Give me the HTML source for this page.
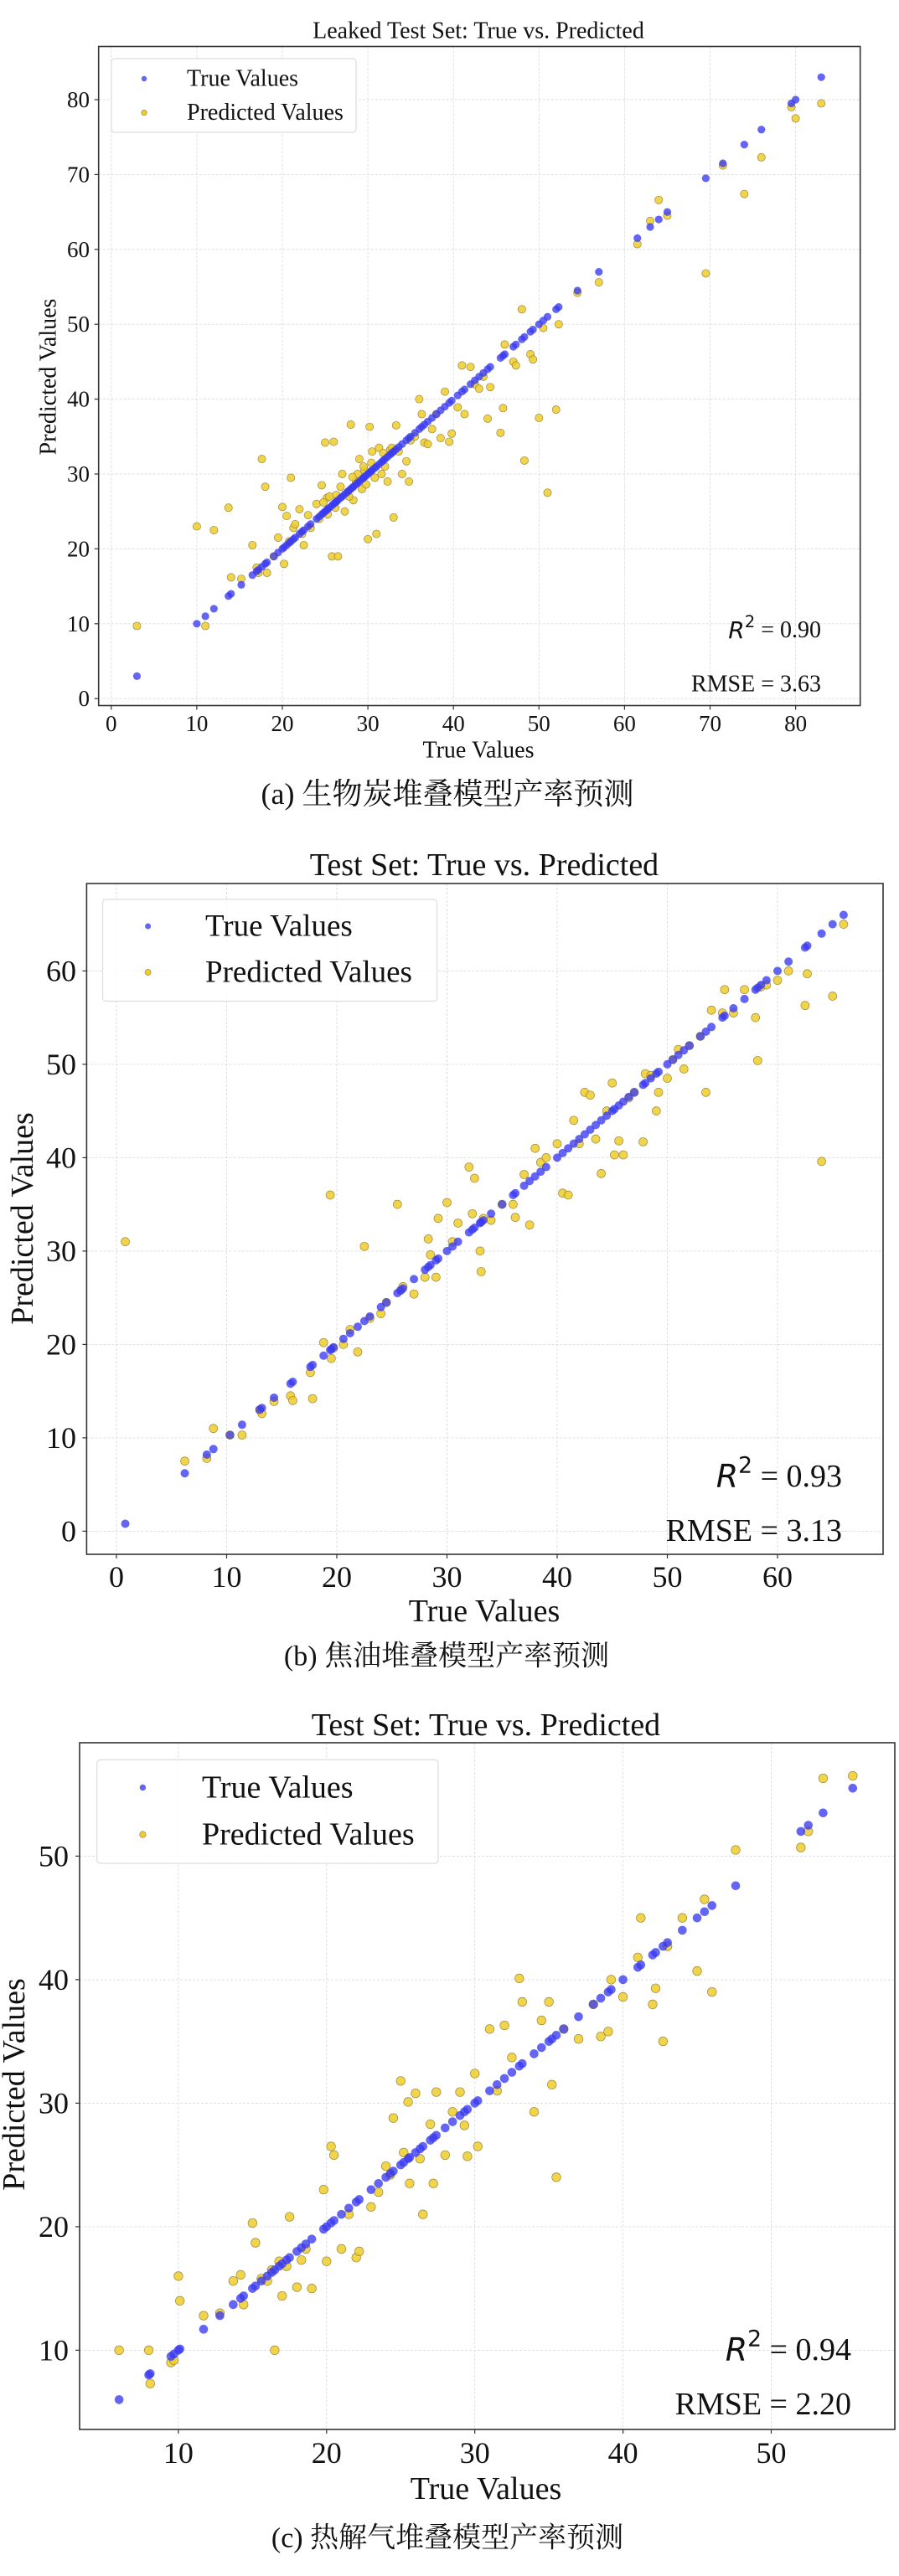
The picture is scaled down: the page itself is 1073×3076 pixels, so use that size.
<!DOCTYPE html>
<html><head><meta charset="utf-8">
<style>
html,body{margin:0;padding:0;background:#fff;}
body{width:1073px;height:3076px;overflow:hidden;}
svg{display:block;}
text{font-family:"Liberation Serif","Noto Serif CJK SC",serif;fill:#111;}
.cap{font-family:"Liberation Serif","Noto Serif CJK SC","Noto Sans CJK SC",serif;}
</style></head>
<body>
<svg id="root" width="1073" height="3076" viewBox="0 0 1073 3076"></svg>
<script>
// ---- Chart A data (biochar) ----
const trueA = [3,10,11,12,13.7,14,15.2,16.5,17,17.2,17.6,18,18.2,19,19.5,20,20.2,20.5,20.8,21,21.3,21.5,22,22.3,22.5,23,23.3,24,24.3,24.6,25,25.2,25.5,25.8,26,26.2,26.5,27,27.3,27.6,28,28.3,28.6,29,29.3,29.6,30,30.2,30.5,30.8,31,31.3,31.6,32,32.3,32.6,33,33.3,33.6,34,34.5,34.8,35,35.5,36,36.3,36.6,37,37.5,38,38.5,39,39.5,39.8,40.5,41,41.3,42,42.5,43,43.5,44,44.3,45.5,45.8,46,47,47.3,48,48.3,49,49.3,50,50.5,51,52,52.3,54.5,57,61.5,63,64,65,69.5,71.5,74,76,79.5,80,83,24.8,25.3,26.8,27.8,28.8,29.8,30.4,31.8,32.8,26.3,28.2,29.5];
const predA = [9.7,23,9.7,22.5,25.5,16.2,16,20.5,17.5,16.8,32,28.3,16.8,19,21.5,25.6,18,24.4,21,29.5,22.8,23.3,25.3,22,20.5,24.5,22.8,26,24,28.5,34.2,26.8,27,19,34.3,25.5,19,30,25,27.5,36.6,26.5,29,32,28,30.5,21.3,36.3,33,29.5,22,33.5,30,31,29,33.2,24.2,36.5,33,30,31.7,29,34.5,35,40,38,34.2,34,36,38,34.8,41,34.3,35.4,38.9,44.5,38,44.3,42,41.4,43,37.4,41.6,35.5,38.8,47.3,45,44.5,52,31.8,46,45.3,37.5,49.5,27.5,38.6,50,54.2,55.6,60.7,63.8,66.6,64.5,56.8,71.2,67.4,72.3,79,77.5,79.5,26.2,24.6,28.3,27,30,28.6,31.5,32.8,33.5,27.2,29.6,31];
const xTicksA = [0,10,20,30,40,50,60,70,80];
const yTicksA = [0,10,20,30,40,50,60,70,80];
// ---- Chart B data (tar) ----
const trueB = [0.8,6.2,8.2,8.8,10.3,11.4,13,13.2,14.3,15.8,16,17.6,17.8,18.8,19.4,19.5,19.7,20.6,21.2,21.9,22.5,23,24,24.5,25.5,25.8,26,27,28,28.3,28.5,29,29.2,30,30.5,31,32,32.3,32.5,33,33.1,33.3,34,35,36,36.2,37,37.5,38,38.5,39,40,40.5,41,41.5,42,42.5,43,43.5,44,44.5,45,45.2,45.6,46,46.5,47,47.8,48,48.5,49,49.2,50,50.5,51,51.5,52,53,53.5,54,55,55.2,56,57,58,58.2,58.5,59,60,61,62.5,62.7,64,65,66];
const predB = [31,7.5,7.8,11,10.3,10.3,13,12.6,13.9,14.5,14,17,14.2,20.2,36,18.5,19.6,20,21.6,19.2,30.5,22.8,23.3,24.5,35,25.8,26.2,25.4,27.2,31.3,29.6,27.2,33.5,35.2,31,33,39,34,37.8,30,27.8,33.5,33.3,35,35,33.6,38.2,32.8,41,39.5,40,41.5,36.2,36,44,41.5,47,46.7,42,38.3,45,48,40.3,41.8,40.3,46.4,47,41.7,49,48.8,45,47,48.5,50.5,51.6,49.5,52,53,47,55.8,55.5,58,55.5,58,55,50.4,58.3,58.5,59,60,56.3,59.7,39.6,57.3,65,64.5];
const xTicksB = [0,10,20,30,40,50,60];
const yTicksB = [0,10,20,30,40,50,60];
// ---- Chart C data (gas) ----
const trueC = [6,8,8.1,9.5,9.7,10,10.1,11.7,12.8,13.7,14.2,14.4,15,15.2,15.6,16,16.3,16.5,16.8,17,17.3,17.5,18,18.3,18.6,19,19.8,20,20.3,20.5,21,21.5,22,22.2,23,23.5,24,24.3,24.5,25,25.2,25.5,25.6,26,26.3,26.5,27,27.2,27.4,28,28.5,29,29.3,29.5,30,30.2,31,31.5,32,32.5,33,33.2,34,34.5,35,35.2,35.5,36,37,38,38.5,39,39.2,40,41,41.2,42,42.2,42.7,43,44,45,45.5,46,47.6,52,52.5,53.5,55.5];
const predC = [10,10,7.3,9,9.2,16,14,12.8,13,15.6,16.1,13.7,20.3,18.7,15.8,15.6,16.5,10,17.2,14.4,16.8,20.8,15.1,17.3,18.2,15,23,17.2,26.5,25.8,18.2,21,17.5,18,21.6,22.8,24.9,24.2,28.8,31.8,26,30.1,23.5,30.8,25.5,21,28.3,23.5,30.9,25.8,29.3,30.9,28.2,25.7,32.4,26.5,36,31,36.3,33.7,40.1,38.2,29.3,36.7,38.2,31.5,24,36,35.2,38,35.4,35.8,40,38.6,41.8,45,38,39.3,35,42.7,45,40.7,46.5,39,50.5,50.7,52,56.3,56.5];
const xTicksC = [10,20,30,40,50];
const yTicksC = [10,20,30,40,50];

const NS = 'http://www.w3.org/2000/svg';
const root = document.getElementById('root');
function mk(tag, attrs, parent){
  const e = document.createElementNS(NS, tag);
  for (const k in attrs) e.setAttribute(k, attrs[k]);
  (parent||root).appendChild(e);
  return e;
}

function drawChart(cfg){
  const g = mk('g', {});
  
  
  const xs = v => cfg.x0px + (v - cfg.xv0) * cfg.xper;
  const ys = v => cfg.y0px - (v - cfg.yv0) * cfg.yper;
  const bg = mk('rect', {x:cfg.L, y:cfg.T, width:cfg.R-cfg.L, height:cfg.B-cfg.T, fill:'#fff'}, g);
  
  
  cfg.xt.forEach(v => {
    const l = mk('line', {x1:xs(v), x2:xs(v), y1:cfg.T, y2:cfg.B, stroke:'#dcdcdc', 'stroke-width':0.9, 'stroke-dasharray':'3,2'}, g);
    
    
  });
  cfg.yt.forEach(v => {
    const l = mk('line', {x1:cfg.L, x2:cfg.R, y1:ys(v), y2:ys(v), stroke:'#dcdcdc', 'stroke-width':0.9, 'stroke-dasharray':'3,2'}, g);
    
    
  });
  const pg = mk('g', {}, g);
  
  
  cfg.t.forEach((tv, i) => {
    const c = mk('circle', {cx:xs(tv), cy:ys(cfg.p[i]), r:cfg.r, fill:'#f0cc2a', 'fill-opacity':0.85, stroke:'#9a8a40', 'stroke-width':0.7}, pg);
    
    
  });
  const tg = mk('g', {}, g);
  
  
  cfg.t.forEach(tv => {
    const c = mk('circle', {cx:xs(tv), cy:ys(tv), r:cfg.r, fill:'#3a3af0', 'fill-opacity':0.78}, tg);
    
    
  });
  const fr = mk('rect', {x:cfg.L, y:cfg.T, width:cfg.R-cfg.L, height:cfg.B-cfg.T, fill:'none', stroke:'#333', 'stroke-width':1.6}, g);
  
  
  cfg.xt.forEach(v => {
    const l = mk('line', {x1:xs(v), x2:xs(v), y1:cfg.B, y2:cfg.B+5, stroke:'#333', 'stroke-width':1.2}, g);
    
    
    const t = mk('text', {x:xs(v), y:cfg.xTickY, 'text-anchor':'middle', 'dominant-baseline':'central', 'font-size':cfg.tickFs}, g);
    t.textContent = v;
    
    
  });
  cfg.yt.forEach(v => {
    const l = mk('line', {x1:cfg.L-5, x2:cfg.L, y1:ys(v), y2:ys(v), stroke:'#333', 'stroke-width':1.2}, g);
    
    
    const t = mk('text', {x:cfg.yTickR, y:ys(v), 'text-anchor':'end', 'dominant-baseline':'central', 'font-size':cfg.tickFs}, g);
    t.textContent = v;
    
    
  });
  const ti = mk('text', {x:cfg.titleX, y:cfg.titleY, 'text-anchor':'middle', 'dominant-baseline':'central', 'font-size':cfg.titleFs}, g);
  ti.textContent = cfg.title;
  
  
  const xl = mk('text', {x:cfg.xLabX, y:cfg.xLabY, 'text-anchor':'middle', 'dominant-baseline':'central', 'font-size':cfg.labFs}, g);
  xl.textContent = 'True Values';
  
  
  const yl = mk('text', {x:cfg.yLabX, y:cfg.yLabY, 'text-anchor':'middle', 'dominant-baseline':'central', 'font-size':cfg.labFs, transform:`rotate(-90 ${cfg.yLabX} ${cfg.yLabY})`}, g);
  yl.textContent = 'Predicted Values';
  
  
  const lg = mk('g', {}, g);
  
  
  mk('rect', {x:cfg.lg[0], y:cfg.lg[1], width:cfg.lg[2]-cfg.lg[0], height:cfg.lg[3]-cfg.lg[1], rx:4, fill:'#fff', 'fill-opacity':0.85, stroke:'#ddd', 'stroke-width':1.2}, lg);
  const m1 = mk('circle', {cx:cfg.lmX, cy:cfg.lmY1, r:cfg.r*0.7, fill:'#3a3af0', 'fill-opacity':0.78}, lg);
  
  
  const m2 = mk('circle', {cx:cfg.lmX, cy:cfg.lmY2, r:cfg.r*0.7, fill:'#f0cc2a', stroke:'#9a8a40', 'stroke-width':0.7}, lg);
  
  
  const lt1 = mk('text', {x:cfg.ltX, y:cfg.lmY1, 'dominant-baseline':'central', 'font-size':cfg.legFs}, lg);
  lt1.textContent = 'True Values';
  
  
  const lt2 = mk('text', {x:cfg.ltX, y:cfg.lmY2, 'dominant-baseline':'central', 'font-size':cfg.legFs}, lg);
  lt2.textContent = 'Predicted Values';
  
  
  const r2 = mk('text', {x:cfg.annR, y:cfg.r2Y, 'text-anchor':'end', 'dominant-baseline':'central', 'font-size':cfg.annFs}, g);
  r2.innerHTML = '<tspan font-family="DejaVu Sans, sans-serif" font-style="italic">R</tspan><tspan font-family="DejaVu Sans, sans-serif" font-size="' + (cfg.annFs*0.7) + '" dy="-' + (cfg.annFs*0.35) + '">2</tspan><tspan dy="' + (cfg.annFs*0.35) + '"> = ' + cfg.r2 + '</tspan>';
  
  
  const rm = mk('text', {x:cfg.annR, y:cfg.rmY, 'text-anchor':'end', 'dominant-baseline':'central', 'font-size':cfg.annFs}, g);
  rm.textContent = 'RMSE = ' + cfg.rmse;
  
  
  const cp = mk('text', {x:cfg.capX, y:cfg.capY, 'text-anchor':'middle', 'dominant-baseline':'central', 'font-size':cfg.capFs, class:'cap'}, g);
  cp.textContent = cfg.caption;
  
  
}

drawChart({id:'biochar', t:trueA, p:predA, xt:xTicksA, yt:yTicksA,
  L:117.7, R:1026.7, T:55.5, B:842.5, x0px:132.8, xv0:0, xper:10.21, y0px:834.2, yv0:0, yper:8.94, r:4.6,
  tickFs:27, xTickY:864, yTickR:107, title:'Leaked Test Set: True vs. Predicted', titleX:571, titleY:37, titleFs:28,
  labFs:28, xLabX:571, xLabY:896, yLabX:58, yLabY:450,
  lg:[133,70,425,158], lmX:172, lmY1:94, lmY2:134.6, ltX:223, legFs:28,
  annR:980, r2Y:752, rmY:817, annFs:28, r2:'0.90', rmse:'3.63',
  caption:'(a) 生物炭堆叠模型产率预测', capX:534, capY:948, capFs:36});

drawChart({id:'tar', t:trueB, p:predB, xt:xTicksB, yt:yTicksB,
  L:103.4, R:1054, T:1055, B:1856, x0px:139, xv0:0, xper:13.15, y0px:1828.4, yv0:0, yper:11.15, r:5,
  tickFs:36, xTickY:1883, yTickR:91, title:'Test Set: True vs. Predicted', titleX:578, titleY:1033, titleFs:38,
  labFs:38, xLabX:578, xLabY:1924, yLabX:27, yLabY:1455,
  lg:[122.5,1074,521.6,1195.5], lmX:176.6, lmY1:1106, lmY2:1161, ltX:245, legFs:37,
  annR:1005, r2Y:1763, rmY:1828, annFs:38, r2:'0.93', rmse:'3.13',
  caption:'(b) 焦油堆叠模型产率预测', capX:533, capY:1978, capFs:34});

drawChart({id:'gas', t:trueC, p:predC, xt:xTicksC, yt:yTicksC,
  L:95, R:1068, T:2081, B:2901, x0px:212.9, xv0:10, xper:17.69, y0px:2806.4, yv0:10, yper:14.75, r:5.3,
  tickFs:36, xTickY:2929, yTickR:82, title:'Test Set: True vs. Predicted', titleX:580, titleY:2060, titleFs:38,
  labFs:38, xLabX:580, xLabY:2972, yLabX:17, yLabY:2489,
  lg:[115.7,2101.4,523,2225], lmX:170.4, lmY1:2134.5, lmY2:2190.6, ltX:241, legFs:38,
  annR:1016, r2Y:2806, rmY:2871, annFs:38, r2:'0.94', rmse:'2.20',
  caption:'(c) 热解气堆叠模型产率预测', capX:534, capY:3031, capFs:34});
</script>
</body></html>
